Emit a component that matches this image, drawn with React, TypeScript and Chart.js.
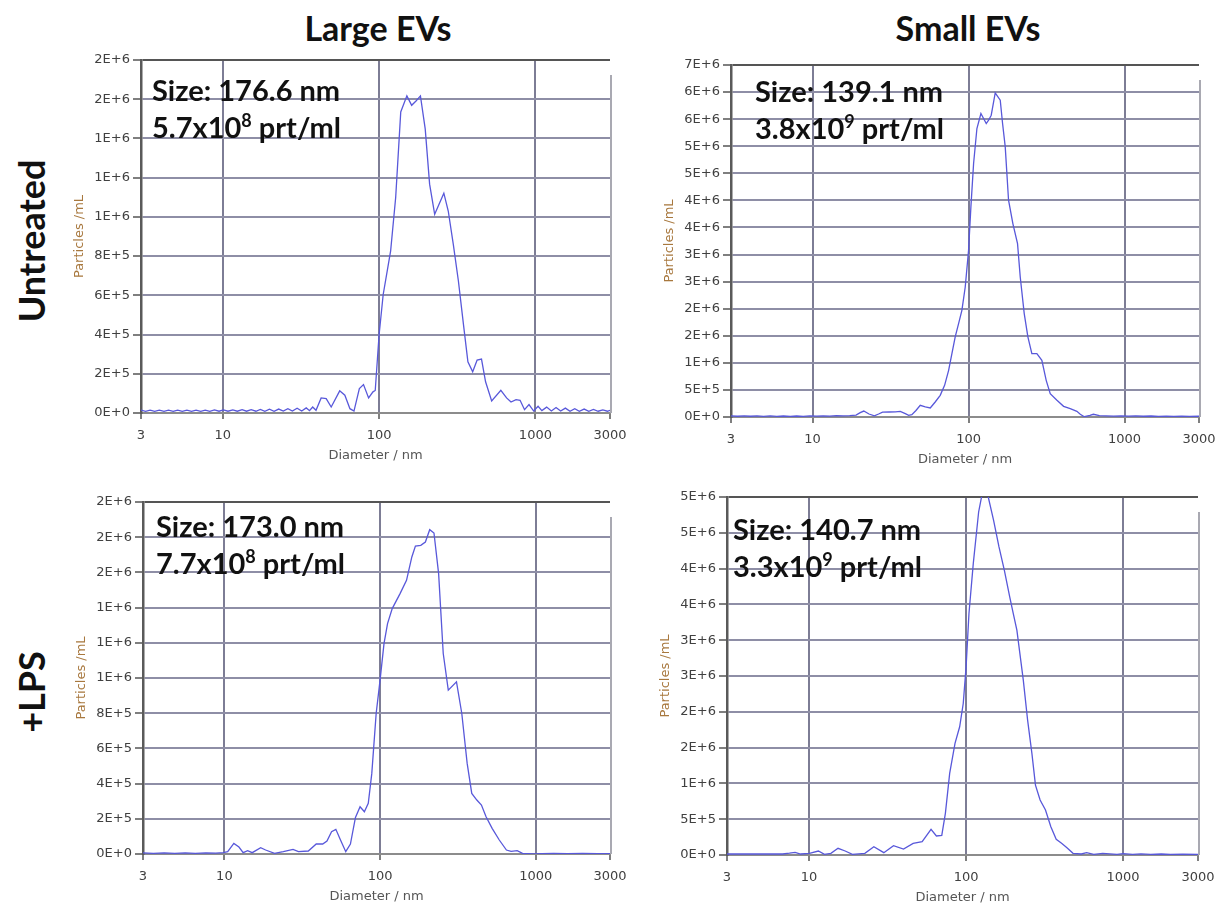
import React, { useEffect, useRef } from "react";
import { Chart, registerables } from "chart.js";

Chart.register(...registerables);

// ---------- DATA ----------
const xTickValues = [3, 10, 100, 1000, 3000];
const columnTitles = ["Large EVs", "Small EVs"];
const rowTitles = ["Untreated", "+LPS"];

// Large EVs, untreated
const largeUntreatedD = [
  3.0, 3.21, 3.43, 3.67, 3.93, 4.21, 4.5, 4.82, 5.15, 5.51, 5.9, 6.31, 6.75, 7.23, 7.73, 8.27, 8.85, 9.47,
  10.1, 10.8, 11.6, 12.4, 13.3, 14.2, 15.2, 16.3, 17.4, 18.6, 19.9, 21.3, 22.8, 24.4, 26.1, 27.9, 29.9, 32.0,
  34.2, 35.9, 37.6, 39.5, 42.6, 45.9, 49.4, 56.0, 60.4, 65.1, 69.1, 74.8, 79.5, 85.7, 91.4, 94.5, 100,
  106.2, 118.5, 127.7, 137.6, 150.6, 161.6, 172.3, 183.9, 197.3, 210.5, 226.8, 259.6, 277, 298.4, 321.8,
  346.8, 370, 397, 423.8, 452, 480, 525, 601, 654, 698, 752, 798, 852, 910, 975, 1040, 1100, 1180, 1265,
  1355, 1450, 1555, 1665, 1785, 1910, 2050, 2195, 2350, 2520, 2700, 2890, 3000,
];
const largeUntreatedV = [
  15000, 8000, 15000, 8000, 15000, 8000, 15000, 8000, 15000, 8000, 15000, 8000, 15000, 8000, 15000, 8000,
  16000, 9000, 16000, 9000, 16000, 9000, 17000, 9000, 17000, 9000, 18000, 9000, 19000, 9000, 20000, 10000,
  22000, 10000, 24000, 10000, 26000, 12000, 30800, 13700, 77000, 73500, 30800, 113000, 90600, 22000, 10000,
  125000, 145000, 77000, 108000, 115000, 398000, 603000, 825000, 1099000, 1535000, 1617000, 1569000,
  1591000, 1617000, 1449000, 1167000, 1013000, 1121000, 1030000, 860000, 672000, 449000, 261000, 210000,
  270000, 275000, 159000, 61500, 116000, 77000, 56000, 68000, 65000, 17000, 43000, 10000, 34000, 12000,
  30000, 10000, 28000, 10000, 25000, 9000, 22000, 9000, 20000, 9000, 18000, 9000, 16000, 9000, 14000,
];
const largeUntreatedMax = 1800000;
const largeUntreatedStep = 200000;

// Small EVs, untreated
const smallUntreatedD = [
  3, 3.3, 3.65, 4.0, 4.4, 4.85, 5.35, 5.9, 6.5, 7.2, 7.9, 8.7, 9.6, 10.6, 11.7, 12.9, 14.2, 15.7, 17.3, 19.0,
  20.2, 21.3, 23.0, 24.9, 26.5, 28.1, 31, 34, 36.5, 39.3, 41.3, 43.3, 46, 49.0, 52.8, 56.8, 61.1, 65.8, 70.2,
  74.5, 78.2, 82.1, 86.3, 90.6, 95.2, 100, 103.5, 107.7, 113.1, 120, 124.8, 129.8, 134.4, 139.7, 148.2,
  159.6, 165.2, 171.8, 180.4, 192.3, 206, 214.4, 227.4, 240, 254.5, 274, 295, 314.5, 333.8, 368.5, 406.6,
  448.5, 494.6, 520, 552, 600, 631, 690, 760, 850, 950, 1060, 1180, 1320, 1480, 1650, 1850, 2070, 2320, 2600,
  3000,
];
const smallUntreatedV = [
  20000, 14000, 20000, 14000, 19000, 13000, 19000, 13000, 18000, 12000, 18000, 13000, 20000, 16000, 22000,
  18000, 24000, 22000, 26000, 35000, 80000, 110000, 55000, 20000, 55000, 90000, 92000, 95000, 105000,
  61600, 30800, 43000, 120000, 215500, 185000, 166000, 277000, 400000, 585000, 862000, 1170000, 1478000,
  1724000, 1970000, 2401000, 3079000, 3880000, 4680000, 5327000, 5604000, 5511000, 5419000, 5481000,
  5573000, 5986000, 5850000, 5419000, 4988000, 4003000, 3572000, 3202000, 2586000, 1909000, 1478000,
  1170000, 1170000, 1047000, 677000, 431000, 308000, 197000, 154000, 105000, 50000, 5000, 30000, 50000,
  25000, 22000, 18000, 20000, 15000, 20000, 14000, 18000, 12000, 16000, 12000, 15000, 11000, 14000,
];
const smallUntreatedMax = 6500000;
const smallUntreatedStep = 500000;

// Large EVs, +LPS
const largeLpsD = [
  3, 3.5, 4.1, 4.8, 5.6, 6.5, 7.6, 8.8, 9.84, 10.5, 11.5, 12.4, 13.2, 14.1, 15.1, 17.1, 18.4, 21.0, 23.9,
  27.6, 29.9, 34.6, 38.9, 42.8, 45.6, 48.8, 52.0, 55.7, 60.2, 64.5, 69.5, 74.4, 79.3, 84.0, 88.5, 94.4, 100,
  106, 111.7, 119.7, 134.4, 147.9, 160, 168.7, 182.6, 195.5, 208.4, 222, 237.8, 254.6, 274.3, 309.7, 335,
  362.7, 388.2, 418.4, 448, 479.7, 524.8, 583.3, 648.3, 694.4, 760, 822.6, 964, 1100, 1300, 1600, 2000,
  2500, 3000,
];
const largeLpsV = [
  6000, 4000, 6000, 4000, 6000, 4000, 6000, 5000, 7600, 13200, 60500, 39700, 7600, 18900, 7600, 36000,
  22700, 3800, 13200, 26500, 13200, 17000, 56800, 56800, 73800, 126800, 140000, 79500, 13200, 56800,
  208000, 268700, 240300, 287600, 457900, 798400, 987600, 1195700, 1309300, 1394400, 1479500, 1555200,
  1687700, 1750100, 1753900, 1772800, 1842800, 1823900, 1593100, 1139000, 930900, 978200, 798400, 514600,
  344300, 306500, 278100, 211900, 145700, 79500, 22700, 15100, 18900, 3800, 1000, 2000, 3000, 2000, 3000,
  2000, 2000,
];
const largeLpsMax = 2000000;
const largeLpsStep = 200000;

// Small EVs, +LPS
const smallLpsD = [
  3, 3.5, 4, 5, 6, 6.78, 7.5, 8.15, 8.82, 10.05, 11.46, 12.53, 13.77, 15.29, 16.98, 18.86, 22.66, 25.85,
  29.92, 34.49, 39.94, 46.0, 52.5, 59.8, 64.7, 70.0, 73.8, 78.6, 85.0, 91.0, 95.9, 100, 104.3, 111.1, 120.2,
  129.3, 138.4, 149.7, 162, 175.3, 189.6, 199.8, 210.6, 231.4, 246.5, 262.5, 276.6, 296.1, 320.4, 346.6,
  375, 405.6, 438.9, 479.8, 541.5, 585.8, 650.5, 741.6, 914.9, 1000, 1150, 1300, 1500, 1750, 2000, 2400,
  3000,
];
const smallLpsV = [
  14000, 14000, 14000, 14000, 14000, 14000, 25000, 37200, 14000, 23300, 55800, 9300, 23300, 93000, 55800,
  9300, 23300, 116300, 32600, 130200, 83700, 162800, 186000, 358100, 265100, 274400, 581400, 1139500,
  1558100, 1790600, 2116200, 2627800, 3372000, 4069600, 4790500, 5150000, 5000000, 4674300, 4302200,
  3976600, 3604500, 3372000, 3139400, 2441800, 1883700, 1418600, 976700, 767400, 627900, 395300, 218600,
  162800, 102300, 23300, 14000, 32600, 9300, 23300, 9300, 18000, 9000, 15000, 9000, 14000, 9000, 12000,
  10000,
];
const smallLpsMax = 5000000;
const smallLpsStep = 500000;

// annotation text
const sizeLabels = ["176.6", "139.1", "173.0", "140.7"];
const concMantissa = ["5.7", "3.8", "7.7", "3.3"];
const concExponent = ["8", "9", "8", "9"];

// ---------- LAYOUT ----------
const Y_AXIS_W = 70;
const X_AXIS_H = 50;
const PAD_T = 12;
const PAD_R = 30;

type Panel = {
  d: number[];
  v: number[];
  max: number;
  step: number;
  plot: { left: number; top: number; width: number; height: number };
  text: { left: number; top: number };
  idx: number;
};

const panels: Panel[] = [
  { d: largeUntreatedD, v: largeUntreatedV, max: largeUntreatedMax, step: largeUntreatedStep,
    plot: { left: 141, top: 60, width: 469, height: 353 }, text: { left: 152, top: 71 }, idx: 0 },
  { d: smallUntreatedD, v: smallUntreatedV, max: smallUntreatedMax, step: smallUntreatedStep,
    plot: { left: 731, top: 65, width: 468, height: 352 }, text: { left: 755, top: 72 }, idx: 1 },
  { d: largeLpsD, v: largeLpsV, max: largeLpsMax, step: largeLpsStep,
    plot: { left: 143, top: 502, width: 467, height: 352 }, text: { left: 156, top: 507 }, idx: 2 },
  { d: smallLpsD, v: smallLpsV, max: smallLpsMax, step: smallLpsStep,
    plot: { left: 727, top: 497, width: 471, height: 358 }, text: { left: 733, top: 510 }, idx: 3 },
];

const tickFont = { family: "'DejaVu Sans', sans-serif", size: 13 };

const rightBorder = {
  id: "rightBorder",
  afterDraw(chart: any) {
    const { ctx, chartArea, scales } = chart;
    const x = scales.x.getPixelForValue(3000) + 1;
    ctx.save();
    ctx.strokeStyle = "#a9a9b2";
    ctx.lineWidth = 2;
    ctx.beginPath();
    ctx.moveTo(x, chartArea.top + 15);
    ctx.lineTo(x, chartArea.bottom);
    ctx.stroke();
    ctx.restore();
  },
};

function PanelChart({ p }: { p: Panel }) {
  const ref = useRef<HTMLCanvasElement | null>(null);
  const w = Y_AXIS_W + p.plot.width + PAD_R;
  const h = PAD_T + p.plot.height + X_AXIS_H;
  useEffect(() => {
    if (!ref.current) return;
    const pts = p.d.map((x, i) => ({ x, y: p.v[i] }));
    const chart = new Chart(ref.current, {
      type: "line",
      data: {
        datasets: [
          {
            data: pts,
            borderColor: "#5858da",
            borderWidth: 1.3,
            pointRadius: 0,
            tension: 0,
            fill: false,
          },
        ],
      },
      options: {
        responsive: false,
        animation: false,
        events: [],
        layout: { padding: { top: PAD_T, right: PAD_R, left: 0, bottom: 0 } },
        plugins: { legend: { display: false }, tooltip: { enabled: false } },
        scales: {
          x: {
            type: "logarithmic",
            min: 3,
            max: 3000,
            bounds: "data",
            afterBuildTicks: (s: any) => {
              s.ticks = xTickValues.map((value) => ({ value }));
            },
            afterFit: (s: any) => {
              s.height = X_AXIS_H;
            },
            ticks: {
              autoSkip: false,
              maxRotation: 0,
              padding: 9,
              color: "#404040",
              font: tickFont,
              callback: (v: any) => String(v),
            },
            grid: {
              color: (c: any) =>
                c.tick && (c.tick.value === 3 || c.tick.value === 3000) ? "rgba(0,0,0,0)" : "#7d7d95",
              lineWidth: 2,
              tickLength: 6,
              tickColor: "#555555",
              tickWidth: 1.5,
            },
            border: { display: true, color: "#8c8c8c", width: 2 },
            title: {
              display: true,
              text: "Diameter / nm",
              color: "#555555",
              font: tickFont,
              padding: { top: 0, bottom: 0 },
            },
          },
          y: {
            type: "linear",
            min: 0,
            max: p.max,
            afterFit: (s: any) => {
              s.width = Y_AXIS_W;
            },
            ticks: {
              stepSize: p.step,
              padding: 3,
              color: "#404040",
              font: tickFont,
              callback: (v: any) => Number(v).toExponential(0).replace("e", "E"),
            },
            grid: {
              color: (c: any) => {
                if (!c.tick) return "#8e8ea6";
                if (c.tick.value === 0) return "rgba(0,0,0,0)";
                if (c.tick.value === p.max) return "#555555";
                return "#8e8ea6";
              },
              lineWidth: 2,
              tickLength: 8,
              tickColor: "#555555",
              tickWidth: 1.5,
            },
            border: { display: true, color: "#5a5a5a", width: 2.5 },
            title: {
              display: true,
              text: "Particles /mL",
              color: "#a8783e",
              font: tickFont,
              padding: { top: 1, bottom: 0 },
            },
          },
        },
      },
      plugins: [rightBorder],
    } as any);
    return () => chart.destroy();
  }, [p]);
  return (
    <canvas
      ref={ref}
      width={w}
      height={h}
      style={{
        position: "absolute",
        left: p.plot.left - Y_AXIS_W,
        top: p.plot.top - PAD_T,
        width: w,
        height: h,
      }}
    />
  );
}

const boldFont = "Lato, 'Open Sans', sans-serif";

export default function App() {
  return (
    <div
      style={{
        position: "absolute",
        left: 0,
        top: 0,
        width: 1232,
        height: 906,
        background: "#ffffff",
        overflow: "hidden",
      }}
    >
      {panels.map((p) => (
        <PanelChart key={p.idx} p={p} />
      ))}
      {panels.map((p) => (
        <div
          key={"t" + p.idx}
          style={{
            position: "absolute",
            left: p.text.left,
            top: p.text.top,
            fontFamily: boldFont,
            fontWeight: 700,
            fontSize: 29,
            lineHeight: "37px",
            color: "#111111",
            whiteSpace: "nowrap",
          }}
        >
          <div>{"Size: " + sizeLabels[p.idx] + " nm"}</div>
          <div>
            {concMantissa[p.idx] + "x10"}
            <span style={{ fontSize: 18, position: "relative", top: -11 }}>{concExponent[p.idx]}</span>
            {" prt/ml"}
          </div>
        </div>
      ))}
      {columnTitles.map((t, i) => (
        <div
          key={"c" + i}
          style={{
            position: "absolute",
            left: i === 0 ? 378 : 968,
            top: 27,
            transform: "translate(-50%, -50%)",
            fontFamily: boldFont,
            fontWeight: 700,
            fontSize: 34,
            color: "#111111",
            whiteSpace: "nowrap",
          }}
        >
          {t}
        </div>
      ))}
      {rowTitles.map((t, i) => (
        <div
          key={"r" + i}
          style={{
            position: "absolute",
            left: 31,
            top: i === 0 ? 241 : 692,
            transform: "translate(-50%, -50%) rotate(-90deg)",
            fontFamily: boldFont,
            fontWeight: 700,
            fontSize: 36,
            color: "#111111",
            whiteSpace: "nowrap",
          }}
        >
          {t}
        </div>
      ))}
    </div>
  );
}
